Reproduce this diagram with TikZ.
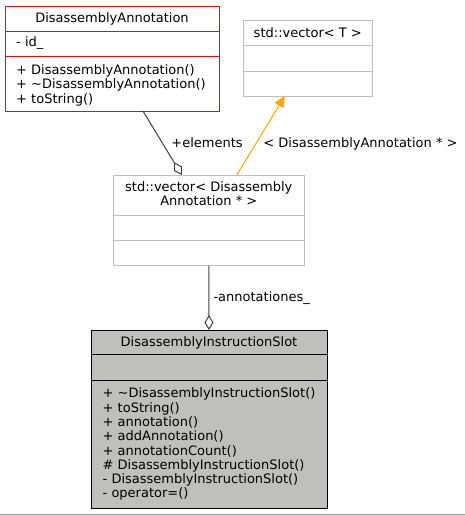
\documentclass[tikz,border=0pt]{standalone}
\usepackage{fontspec}
\setmainfont{DejaVu Sans}
\usetikzlibrary{arrows.meta,calc}
\definecolor{edgegray}{HTML}{404040}
\definecolor{boxgray}{HTML}{BFBFBF}
\definecolor{slotfill}{RGB}{190,192,188}
\definecolor{tplorange}{HTML}{FFA500}
\definecolor{rulegray}{HTML}{A0A0A0}
\begin{document}
\begin{tikzpicture}[x=1pt,y=-1pt,
  font=\fontsize{13}{14.3}\selectfont,
  box/.style={rectangle, inner sep=0pt, outer sep=0pt, line width=1pt, fill=white},
  txt/.style={anchor=base west, inner sep=0pt},
  ttl/.style={anchor=base, inner sep=0pt},
  lbl/.style={anchor=base, inner sep=0pt},
  aggr/.style={draw=edgegray, line width=1pt, -{Diamond[length=15pt,width=9pt,fill=white,line width=1pt]}},
  tpl/.style={draw=tplorange, line width=1pt, -{Triangle[length=11pt,width=10pt,fill=tplorange]}}]
\useasboundingbox (0,0) rectangle (465,515);

% DisassemblyAnnotation
\node[box, draw=red, minimum width=214pt, minimum height=105pt] (da) at (112,58.5) {};
\draw[red, line width=1pt] (da.west |- 0,31.7) -- (da.east |- 0,31.7);
\draw[red, line width=1pt] (da.west |- 0,56.7) -- (da.east |- 0,56.7);
\node[ttl] (dat) at (112,22.7) {DisassemblyAnnotation};
\node[txt] (da1) at (16,46.7) {- id\_};
\node[txt] (da2) at (16,74.5) {+ DisassemblyAnnotation()};
\node[txt] (da3) at (16,88.8) {+ \textasciitilde DisassemblyAnnotation()};
\node[txt] (da4) at (16,103.1) {+ toString()};

% std::vector< T >
\node[box, draw=boxgray, minimum width=129pt, minimum height=75.3pt] (vt) at (307.8,58.35) {};
\draw[boxgray, line width=1pt] (vt.west |- 0,45.7) -- (vt.east |- 0,45.7);
\draw[boxgray, line width=1pt] (vt.west |- 0,71.3) -- (vt.east |- 0,71.3);
\node[ttl] (vtt) at (307.8,37.8) {std::vector< T >};

% std::vector< DisassemblyAnnotation * >
\node[box, draw=boxgray, minimum width=191pt, minimum height=90.7pt] (vd) at (208.8,220.35) {};
\draw[boxgray, line width=1pt] (vd.west |- 0,215.3) -- (vd.east |- 0,215.3);
\draw[boxgray, line width=1pt] (vd.west |- 0,240.3) -- (vd.east |- 0,240.3);
\node[ttl] (vdt1) at (208.8,191.2) {std::vector< Disassembly};
\node[ttl] (vdt2) at (208.8,205.5) {Annotation * >};

% DisassemblyInstructionSlot
\node[box, draw=black, fill=slotfill, minimum width=236pt, minimum height=178pt] (ds) at (209,419) {};
\draw[black, line width=1pt] (ds.west |- 0,354.5) -- (ds.east |- 0,354.5);
\draw[black, line width=1pt] (ds.west |- 0,380) -- (ds.east |- 0,380);
\node[ttl] (dst) at (209,346.5) {DisassemblyInstructionSlot};
\node[txt] (ds1) at (102.5,397.8) {+ \textasciitilde DisassemblyInstructionSlot()};
\node[txt] (ds2) at (102.5,412.1) {+ toString()};
\node[txt] (ds3) at (102.5,426.4) {+ annotation()};
\node[txt] (ds4) at (102.5,440.7) {+ addAnnotation()};
\node[txt] (ds5) at (102.5,455.0) {+ annotationCount()};
\node[txt] (ds6) at (102.5,469.3) {\# DisassemblyInstructionSlot()};
\node[txt] (ds7) at (102.5,483.6) {- DisassemblyInstructionSlot()};
\node[txt] (ds8) at (102.5,497.9) {- operator=()};

% connectors
\draw[aggr] ([xshift=31pt]da.south) -- ([xshift=-27pt]vd.north);
\node[lbl] (l1) at (207,147) {+elements};
\draw[tpl] ([xshift=28pt]vd.north) -- ([xshift=-23pt]vt.south);
\node[lbl] (l2) at (360.5,147) {< DisassemblyAnnotation * >};
\draw[aggr] (vd.south) -- (ds.north);
\node[txt] (l3) at (213.3,301.2) {-annotationes\_};

% bottom rule
\draw[rulegray, line width=1pt] (0,514) -- (465,514);
\end{tikzpicture}
\end{document}
